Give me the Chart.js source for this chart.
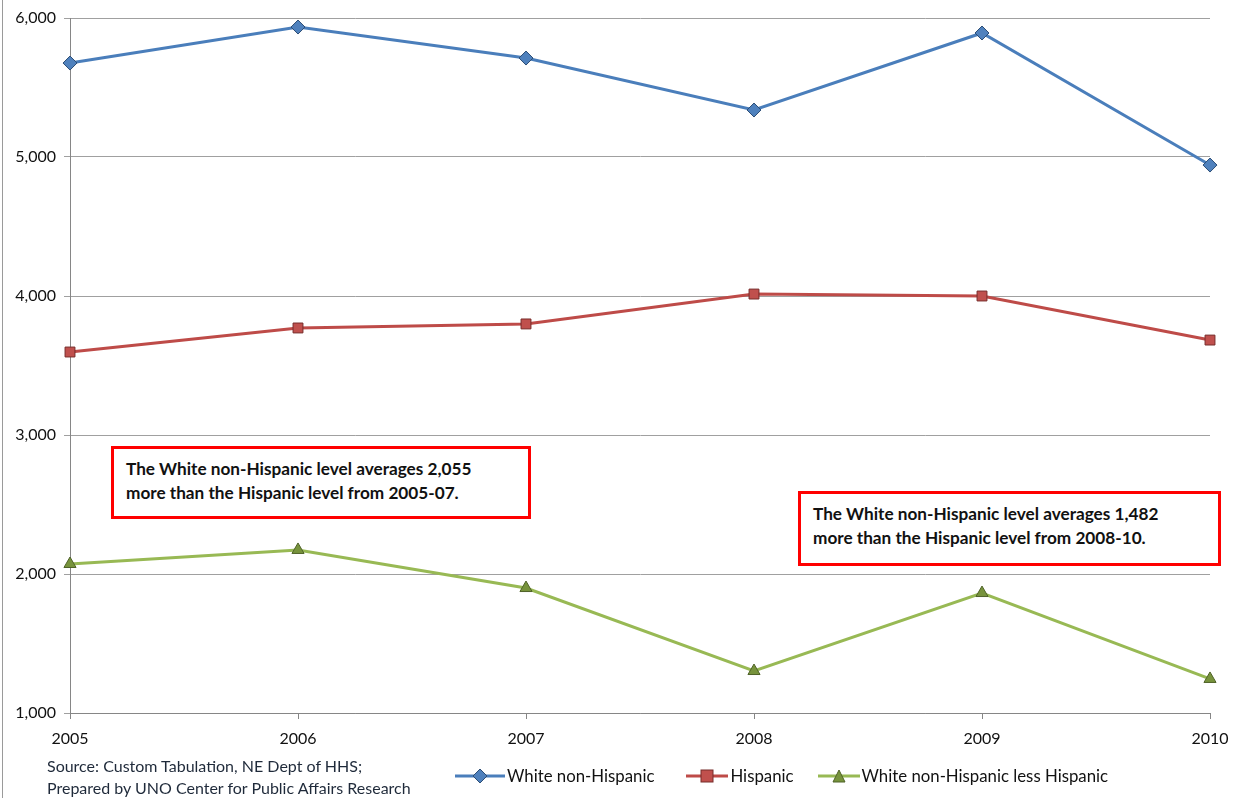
<!DOCTYPE html>
<html lang="en">
<head>
  <meta charset="UTF-8">
  <title>White non-Hispanic vs Hispanic</title>
  <script src="https://cdn.jsdelivr.net/npm/chart.js"></script>
  <style>
    html, body { margin: 0; padding: 0; background: #fff; }
    body { font-family: Lato, "Open Sans", sans-serif; }
    #wrap { position: relative; width: 1239px; height: 798px; overflow: hidden; }
    #wrap:before { content: ""; position: absolute; left: 2px; top: 0; bottom: 0; border-left: 1px solid #9a9a9a; }
    .note {
      position: absolute; box-sizing: border-box; border: 3px solid #f00;
      font-weight: bold; font-size: 17.2px; line-height: 24px; color: #111;
      padding: 8px 0 0 12px; background: #fff; white-space: nowrap;
    }
    #source { position: absolute; left: 47px; top: 755px; font-size: 16px; line-height: 22px; color: #1f2a3a; }
    #legend { position: absolute; top: 765px; left: 455px; font-size: 16.8px; color: #111; display: flex; }
    #legend .item { display: flex; align-items: center; }
    #legend svg { margin-right: 2px; }
  </style>
</head>
<body>
  <div id="wrap">
    <canvas id="chart" width="1239" height="798"></canvas>
    <div class="note" style="left:111px; top:446px; width:420px; height:73px;">The White non-Hispanic level averages 2,055<br>more than the Hispanic level from 2005-07.</div>
    <div class="note" style="left:798px; top:491px; width:423px; height:75px;">The White non-Hispanic level averages 1,482<br>more than the Hispanic level from 2008-10.</div>
    <div id="source">Source: Custom Tabulation, NE Dept of HHS;<br>Prepared by UNO Center for Public Affairs Research</div>
    <div id="legend"></div>
  </div>

  <script>
    // Data
    const years = ['2005', '2006', '2007', '2008', '2009', '2010'];
    const whiteNonHispanic = [5676, 5935, 5712, 5338, 5892, 4942];
    const hispanic = [3597, 3770, 3799, 4014, 4000, 3683];
    const whiteLessHispanic = [2072, 2173, 1899, 1302, 1863, 1245];
    const yTicks = [1000, 2000, 3000, 4000, 5000, 6000];

    const series = [
      { label: 'White non-Hispanic', data: whiteNonHispanic, line: '#4a7ebb', fill: '#4f81bd', edge: '#2c4d75', style: 'rectRot', r: 7, w: 50, gap: 0 },
      { label: 'Hispanic', data: hispanic, line: '#be4b48', fill: '#c0504d', edge: '#772c2a', style: 'rect', r: 7, w: 42, gap: 32 },
      { label: 'White non-Hispanic less Hispanic', data: whiteLessHispanic, line: '#98b954', fill: '#77933c', edge: '#4f6228', style: 'triangle', r: 7, w: 42, gap: 24 }
    ];

    const ctx = document.getElementById('chart').getContext('2d');

    new Chart(ctx, {
      type: 'line',
      data: {
        labels: years,
        datasets: series.map(s => ({
          label: s.label,
          data: s.data,
          borderColor: s.line,
          borderWidth: 3,
          pointStyle: s.style,
          pointRadius: s.r,
          pointBackgroundColor: s.fill,
          pointBorderColor: s.edge,
          pointBorderWidth: 1,
          tension: 0
        }))
      },
      options: {
        responsive: false,
        animation: false,
        layout: { padding: { top: 18, right: 29, left: 0, bottom: 0 } },
        plugins: { legend: { display: false }, tooltip: { enabled: false } },
        scales: {
          x: {
            offset: false,
            grid: { display: true, drawOnChartArea: false, drawTicks: true, tickLength: 6, color: '#868686' },
            border: { color: '#868686', width: 1 },
            ticks: { color: '#111', font: { family: 'Lato', size: 16 }, padding: 10, maxRotation: 0 },
            afterFit: scale => { scale.height = 85; }
          },
          y: {
            min: 1000,
            max: 6000,
            afterBuildTicks: scale => { scale.ticks = yTicks.map(v => ({ value: v })); },
            grid: { color: '#a0a0a0', tickLength: 6 },
            border: { color: '#868686', width: 1 },
            ticks: {
              color: '#111', font: { family: 'Lato', size: 16 }, padding: 8,
              callback: v => v.toLocaleString('en-US')
            },
            afterFit: scale => { scale.width = 70; }
          }
        }
      }
    });

    // Legend: line with marker in the middle, like the reference
    const legend = document.getElementById('legend');
    const marker = s => {
      const c = s.w / 2;
      if (s.style === 'rectRot') return `<polygon points="${c},1 ${c + 7},8 ${c},15 ${c - 7},8" fill="${s.fill}" stroke="${s.edge}"/>`;
      if (s.style === 'rect') return `<rect x="${c - 6}" y="2" width="12" height="12" fill="${s.fill}" stroke="${s.edge}"/>`;
      return `<polygon points="${c},2 ${c + 6},14 ${c - 6},14" fill="${s.fill}" stroke="${s.edge}"/>`;
    };
    series.forEach(s => {
      const item = document.createElement('div');
      item.className = 'item';
      item.style.marginLeft = s.gap + 'px';
      item.innerHTML = `<svg width="${s.w}" height="16"><line x1="0" y1="8" x2="${s.w}" y2="8" stroke="${s.line}" stroke-width="3"/>${marker(s)}</svg><span>${s.label}</span>`;
      legend.appendChild(item);
    });
  </script>
</body>
</html>
